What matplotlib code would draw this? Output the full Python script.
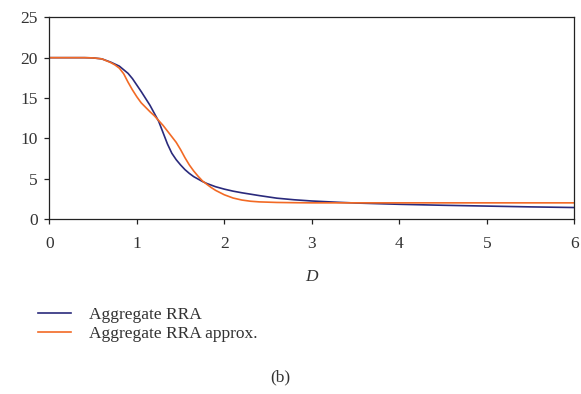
import matplotlib
matplotlib.use("Agg")
import matplotlib.pyplot as plt
from matplotlib.lines import Line2D

plt.rcParams['font.family'] = ['Liberation Serif', 'DejaVu Serif']

# Data
d_exact = [0.0, 0.4, 0.5, 0.6, 0.7, 0.8, 0.85, 0.9, 0.95, 1.0, 1.05, 1.1, 1.15, 1.2, 1.25,
           1.3, 1.35, 1.4, 1.45, 1.5, 1.55, 1.6, 1.65, 1.7, 1.75, 1.8, 1.9, 2.0, 2.1, 2.2,
           2.4, 2.6, 2.8, 3.0, 3.3, 3.5, 4.0, 4.5, 5.0, 5.5, 6.0]
rra_exact = [20.0, 20.0, 19.97, 19.85, 19.45, 18.95, 18.5, 18.05, 17.4, 16.6, 15.8, 14.95, 14.1, 13.1, 12.1,
             10.7, 9.3, 8.15, 7.35, 6.7, 6.12, 5.65, 5.25, 4.95, 4.65, 4.4, 4.0, 3.7, 3.45, 3.25,
             2.9, 2.58, 2.38, 2.23, 2.07, 1.98, 1.82, 1.7, 1.6, 1.5, 1.42]

d_approx = [0.0, 0.4, 0.5, 0.6, 0.7, 0.75, 0.8, 0.85, 0.9, 0.95, 1.0, 1.05, 1.1, 1.15, 1.2, 1.25,
            1.3, 1.35, 1.4, 1.45, 1.5, 1.55, 1.6, 1.65, 1.7, 1.75, 1.8, 1.85, 1.9, 2.0, 2.1,
            2.2, 2.3, 2.4, 2.6, 2.8, 3.0, 4.0, 5.0, 6.0]
rra_approx = [20.0, 20.0, 19.97, 19.85, 19.4, 19.1, 18.7, 18.0, 16.95, 16.0, 15.15, 14.4, 13.85, 13.3, 12.8, 12.2,
              11.6, 10.9, 10.2, 9.5, 8.6, 7.6, 6.7, 5.95, 5.3, 4.72, 4.3, 3.9, 3.55, 3.0, 2.6,
              2.35, 2.2, 2.12, 2.05, 2.02, 2.0, 2.0, 2.0, 2.0]

x_ticks = [0, 1, 2, 3, 4, 5, 6]
y_ticks = [0, 5, 10, 15, 20, 25]
series_labels = ["Aggregate RRA", "Aggregate RRA approx."]
x_label = "D"
caption = "(b)"

blue = "#2a2a7c"
orange = "#f26a25"
txt = "#333333"
fs = 12.5

fig = plt.figure(figsize=(5.81, 3.94), dpi=100)
ax = fig.add_axes([0.0849, 0.4442, 0.9036, 0.5118])

ax.plot(d_exact, rra_exact, color=blue, lw=1.2, solid_joinstyle='round')
ax.plot(d_approx, rra_approx, color=orange, lw=1.2, solid_joinstyle='round')

ax.set_xlim(0, 6)
ax.set_ylim(0, 25)
ax.set_xticks(x_ticks)
ax.set_yticks(y_ticks)
ax.tick_params(axis='both', direction='out', length=3.5, width=0.9, color='#222222',
               labelsize=fs, labelcolor=txt)
ax.tick_params(axis='x', pad=9)
ax.tick_params(axis='y', pad=5)
for s in ax.spines.values():
    s.set_color('#222222')
    s.set_linewidth(0.9)

ax.set_xlabel(x_label, fontsize=fs, style='italic', color=txt, labelpad=12)

handles = [Line2D([], [], color=blue, lw=1.2), Line2D([], [], color=orange, lw=1.2)]
fig.legend(handles, series_labels, loc='upper left', bbox_to_anchor=(0.066, 0.221),
           frameon=False, fontsize=fs, handlelength=1.9, handletextpad=1.0,
           labelspacing=0.15, borderaxespad=0, borderpad=0, labelcolor=txt)

fig.text(0.482, 0.043, caption, fontsize=fs, color=txt, ha='center', va='center')

fig.savefig("out.png", dpi=100)
